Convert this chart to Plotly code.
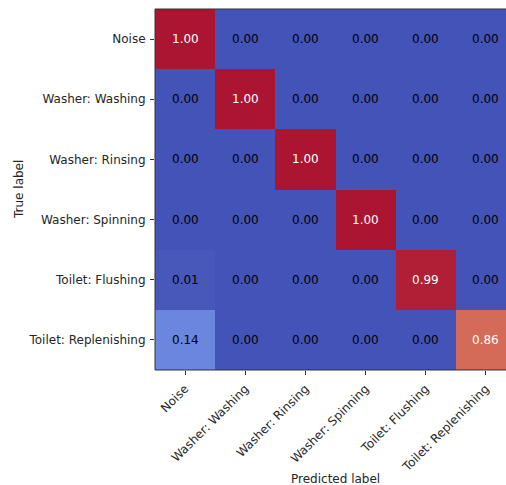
import plotly.graph_objects as go

# Class names shared by both axes
classes = [
    "Noise",
    "Washer: Washing",
    "Washer: Rinsing",
    "Washer: Spinning",
    "Toilet: Flushing",
    "Toilet: Replenishing",
]

# Row-normalised confusion matrix (rows = true label, cols = predicted label)
row_noise = [1.00, 0.00, 0.00, 0.00, 0.00, 0.00]
row_washing = [0.00, 1.00, 0.00, 0.00, 0.00, 0.00]
row_rinsing = [0.00, 0.00, 1.00, 0.00, 0.00, 0.00]
row_spinning = [0.00, 0.00, 0.00, 1.00, 0.00, 0.00]
row_flushing = [0.01, 0.00, 0.00, 0.00, 0.99, 0.00]
row_replenishing = [0.14, 0.00, 0.00, 0.00, 0.00, 0.86]

matrix = [row_noise, row_washing, row_rinsing, row_spinning, row_flushing, row_replenishing]

# Moreland "cool to warm" diverging map (matplotlib coolwarm), slightly muted
coolwarm_rgb = [
    (59, 76, 192), (68, 90, 204), (77, 104, 215), (87, 117, 225), (98, 130, 234),
    (108, 142, 241), (119, 154, 247), (130, 165, 251), (141, 176, 254), (152, 185, 255),
    (163, 194, 255), (174, 201, 253), (184, 208, 249), (194, 213, 244), (204, 217, 238),
    (213, 219, 230), (221, 221, 221), (229, 216, 209), (236, 211, 197), (241, 204, 185),
    (245, 196, 173), (247, 187, 160), (247, 177, 148), (247, 166, 135), (244, 154, 123),
    (241, 141, 111), (236, 127, 99), (229, 112, 88), (222, 96, 77), (213, 80, 66),
    (203, 62, 56), (192, 40, 47), (180, 4, 38),
]


def mute(c, k=0.14, g=125):
    return tuple(round((1 - k) * v + k * g) for v in c)


n = len(coolwarm_rgb) - 1
coolwarm = [[i / n, "rgb(%d,%d,%d)" % mute(c)] for i, c in enumerate(coolwarm_rgb)]

FONT = "DejaVu Sans"
TXT = "#262626"
FS = 12

fig = go.Figure(
    go.Heatmap(
        z=matrix,
        x=list(range(len(classes))),
        y=list(range(len(classes))),
        zmin=0,
        zmax=1,
        colorscale=coolwarm,
        showscale=False,
        hoverinfo="skip",
    )
)

# Cell value labels: white on strong cells, black elsewhere
thresh = max(max(r) for r in matrix) / 2.0
annotations = []
for i, row in enumerate(matrix):
    for j, v in enumerate(row):
        annotations.append(
            dict(
                x=j, y=i, xref="x", yref="y",
                text="%.2f" % v,
                showarrow=False,
                font=dict(family=FONT, size=FS, color="white" if v > thresh else "black"),
            )
        )

# Axis titles
annotations.append(
    dict(
        x=(len(classes) - 1) / 2.0, xref="x", y=0, yref="paper",
        yanchor="middle", yshift=-108.5,
        text="Predicted label", showarrow=False,
        font=dict(family=FONT, size=FS, color=TXT),
    )
)
annotations.append(
    dict(
        x=0, xref="paper", xanchor="center", xshift=-136.5,
        y=0.5, yref="paper",
        text="True label", textangle=-90, showarrow=False,
        font=dict(family=FONT, size=FS, color=TXT),
    )
)

# Frame lines (top, left, bottom); the right side runs off the canvas
line = dict(color="#333333", width=1)
shapes = [
    dict(type="line", xref="paper", yref="paper", x0=0, x1=1, y0=1, y1=1, line=line),
    dict(type="line", xref="paper", yref="paper", x0=0, x1=1, y0=0, y1=0, line=line),
    dict(type="line", xref="paper", yref="paper", x0=0, x1=0, y0=0, y1=1, line=line),
]

left, right_px, width = 154.5, 506, 506
cell = 60.2
x_hi = -0.5 + (right_px - left) / cell

axis_common = dict(
    tickvals=list(range(len(classes))),
    ticktext=classes,
    ticks="outside",
    ticklen=4,
    tickwidth=1,
    tickcolor="#333333",
    ticklabelstandoff=2,
    showgrid=False,
    zeroline=False,
    showline=False,
    tickfont=dict(family=FONT, size=FS, color=TXT),
)

fig.update_layout(
    width=width,
    height=485,
    margin=dict(l=left, r=0, t=8.7, b=115.4, pad=0),
    paper_bgcolor="white",
    plot_bgcolor="white",
    annotations=annotations,
    shapes=shapes,
    font=dict(family=FONT, size=FS, color=TXT),
    xaxis=dict(range=[-0.5, x_hi], tickangle=-45, **axis_common),
    yaxis=dict(range=[len(classes) - 0.5, -0.5], **axis_common),
)

fig.write_html("out.html")
